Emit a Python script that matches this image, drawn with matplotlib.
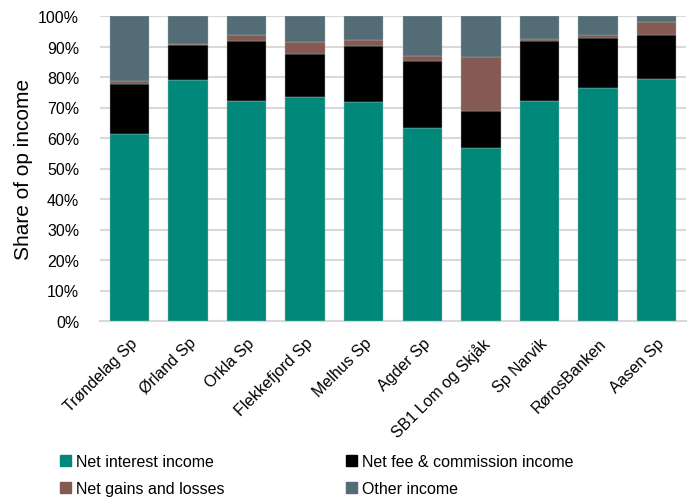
import matplotlib
matplotlib.use("Agg")
import matplotlib.pyplot as plt
import numpy as np
from matplotlib.patches import Patch
from matplotlib.ticker import PercentFormatter

plt.rcParams['font.family'] = ['Liberation Sans', 'DejaVu Sans']

banks = ['Trøndelag Sp', 'Ørland Sp', 'Orkla Sp', 'Flekkefjord Sp', 'Melhus Sp',
         'Agder Sp', 'SB1 Lom og Skjåk', 'Sp Narvik', 'RørosBanken', 'Aasen Sp']

# andeler i prosent
net_interest = [61.3, 79.1, 72.1, 73.4, 71.9, 63.3, 56.6, 72.0, 76.4, 79.3]
net_fee = [16.4, 11.5, 19.7, 14.2, 18.2, 22.0, 12.4, 19.9, 16.3, 14.6]
net_gains = [0.9, 0.2, 2.0, 3.8, 1.9, 1.5, 17.6, 0.6, 1.1, 4.2]
other_income = [21.4, 9.2, 6.2, 8.6, 8.0, 13.2, 13.4, 7.5, 6.2, 1.9]

colors = ['#00897B', '#000000', '#845A53', '#536C76']
labels = ['Net interest income', 'Net fee & commission income',
          'Net gains and losses', 'Other income']

fig = plt.figure(figsize=(6.92, 5.02), dpi=100)
ax = fig.add_axes([100/692, 1 - 322/502, 586/692, 305/502])

x = np.arange(len(banks))
bottom = np.zeros(len(banks))
for vals, c in zip([net_interest, net_fee, net_gains, other_income], colors):
    ax.bar(x, vals, bottom=bottom, width=0.67, color=c, edgecolor='#9fb5b0',
           linewidth=0.3, zorder=3)
    bottom += np.array(vals)

ax.set_ylim(0, 100)
ax.set_xlim(-0.5, len(banks) - 0.5)
ax.set_yticks(np.arange(0, 101, 10))
ax.yaxis.set_major_formatter(PercentFormatter(decimals=0))
ax.grid(axis='y', color='#d9d9d9', linewidth=1.5, zorder=0)
for s in ['top', 'right', 'left']:
    ax.spines[s].set_visible(False)
ax.spines['bottom'].set_color('#d9d9d9')
ax.spines['bottom'].set_linewidth(1.5)
ax.tick_params(axis='both', length=0, labelsize=11.5, colors='#000000')
ax.tick_params(axis='y', pad=15)
ax.tick_params(axis='x', pad=10)
ax.set_xticks(x)
ax.set_xticklabels(banks, rotation=45, ha='right', rotation_mode='anchor')
ax.set_ylabel('Share of op income', fontsize=15, labelpad=4)

handles = [Patch(color=colors[i]) for i in [0, 2, 1, 3]]
leg_labels = [labels[i] for i in [0, 2, 1, 3]]
fig.legend(handles, leg_labels, ncol=2, loc='center left',
           bbox_to_anchor=(60/692, 1 - 476/502), frameon=False, fontsize=11.5,
           borderpad=0, borderaxespad=0,
           handlelength=0.7, handleheight=0.7, handletextpad=0.3,
           columnspacing=7.6, labelspacing=0.75)

fig.savefig('out.png', dpi=100)
